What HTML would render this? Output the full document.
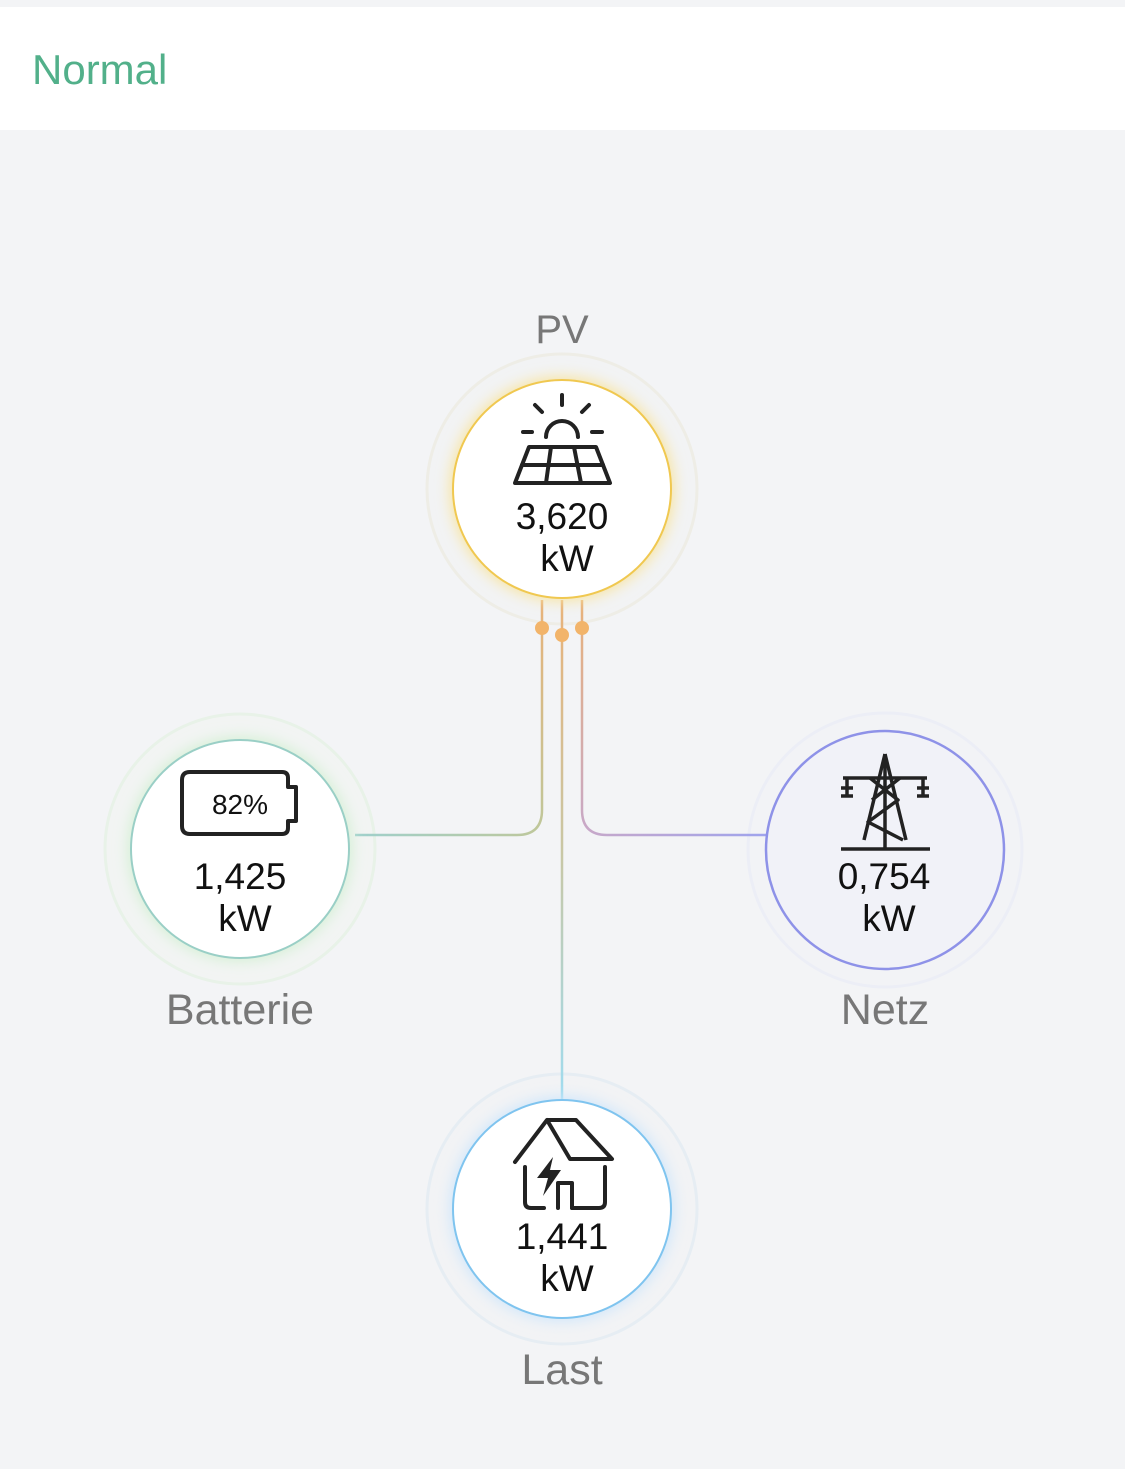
<!DOCTYPE html>
<html><head><meta charset="utf-8"><style>
html,body{margin:0;padding:0;background:#f3f4f6;}
svg{display:block}
</style></head><body>
<svg width="1125" height="1469" viewBox="0 0 1125 1469" xmlns="http://www.w3.org/2000/svg" font-family="Liberation Sans, sans-serif">
<defs>
<linearGradient id="gl" gradientUnits="userSpaceOnUse" x1="542" y1="600" x2="355" y2="835"><stop offset="0" stop-color="#e8b27a"/><stop offset="0.6" stop-color="#bfc79a"/><stop offset="1" stop-color="#9fd0cc"/></linearGradient>
<linearGradient id="gr" gradientUnits="userSpaceOnUse" x1="582" y1="600" x2="772" y2="835"><stop offset="0" stop-color="#e8b27a"/><stop offset="0.6" stop-color="#c8a8c8"/><stop offset="1" stop-color="#9ea4ee"/></linearGradient>
<linearGradient id="gm" gradientUnits="userSpaceOnUse" x1="562" y1="600" x2="562" y2="1100"><stop offset="0" stop-color="#e8b27a"/><stop offset="0.5" stop-color="#c9c7a4"/><stop offset="1" stop-color="#9fdcf0"/></linearGradient>
<filter id="blur" x="-30%" y="-30%" width="160%" height="160%"><feGaussianBlur stdDeviation="7"/></filter>
</defs>
<rect x="0" y="0" width="1125" height="1469" fill="#f3f4f6"/>
<rect x="0" y="7" width="1125" height="123" fill="#ffffff"/>
<text x="32" y="84" font-size="42" fill="#52b08a">Normal</text>

<!-- halos -->
<circle cx="562" cy="489" r="135" fill="#f2f3f4" stroke="#eeede6" stroke-width="3"/>
<circle cx="240" cy="849" r="135" fill="#f2f4f3" stroke="#e8f2e8" stroke-width="3"/>
<circle cx="885" cy="850" r="137" fill="#f2f3f6" stroke="#eceef6" stroke-width="3"/>
<circle cx="562" cy="1209" r="135" fill="#f2f3f5" stroke="#e6edf3" stroke-width="3"/>

<!-- connectors -->
<path d="M542 600 V810 Q542 835 517 835 H355" fill="none" stroke="url(#gl)" stroke-width="2.5"/>
<path d="M582 600 V810 Q582 835 607 835 H772" fill="none" stroke="url(#gr)" stroke-width="2.5"/>
<line x1="562" y1="600" x2="562" y2="1100" stroke="url(#gm)" stroke-width="2.5"/>
<circle cx="542" cy="628" r="7" fill="#f2b46a"/>
<circle cx="562" cy="635" r="7" fill="#f2b46a"/>
<circle cx="582" cy="628" r="7" fill="#f2b46a"/>

<!-- PV -->
<text x="562" y="343" font-size="40" fill="#777" text-anchor="middle">PV</text>
<circle cx="562" cy="489" r="112" fill="#f8e4a0" filter="url(#blur)"/>
<circle cx="562" cy="489" r="109" fill="#fff" stroke="#f0c850" stroke-width="2"/>
<g fill="none" stroke="#222" stroke-width="4" stroke-linecap="round" stroke-linejoin="round">
<path d="M546 437 A16 16 0 0 1 578 437"/>
<line x1="562" y1="395" x2="562" y2="405"/><line x1="535" y1="405" x2="542" y2="412"/><line x1="589" y1="405" x2="582" y2="412"/>
<line x1="523" y1="432" x2="532" y2="432"/><line x1="592" y1="432" x2="602" y2="432"/>
<path d="M529 447 H596 L610 483 H515 Z"/>
<line x1="522" y1="465" x2="603" y2="465"/>
<line x1="551" y1="447" x2="546" y2="483"/><line x1="574" y1="447" x2="581" y2="483"/>
</g>
<text x="562" y="529" font-size="37" fill="#111" text-anchor="middle">3,620</text>
<text x="567" y="571" font-size="37" fill="#111" text-anchor="middle">kW</text>

<!-- Batterie -->
<circle cx="240" cy="849" r="112" fill="#d4f0d4" filter="url(#blur)"/>
<circle cx="240" cy="849" r="109" fill="#fff" stroke="#9acfc6" stroke-width="2"/>
<path d="M190 772 H282 Q288 772 288 778 V787 H296 V821 H288 V828 Q288 834 282 834 H190 Q182 834 182 826 V780 Q182 772 190 772 Z" fill="none" stroke="#222" stroke-width="4" stroke-linejoin="round"/>
<text x="240" y="814" font-size="28" fill="#111" text-anchor="middle">82%</text>
<text x="240" y="889" font-size="37" fill="#111" text-anchor="middle">1,425</text>
<text x="245" y="931" font-size="37" fill="#111" text-anchor="middle">kW</text>
<text x="240" y="1024" font-size="43" fill="#777" text-anchor="middle">Batterie</text>

<!-- Netz -->
<circle cx="885" cy="850" r="119" fill="#f1f2f8" stroke="#8e92e8" stroke-width="2.5"/>
<g fill="none" stroke="#222" stroke-width="3.5" stroke-linejoin="round">
<path d="M885 754 L864 840 M885 754 L906 840"/>
<line x1="885" y1="754" x2="885" y2="849"/>
<line x1="843" y1="778" x2="927" y2="778"/>
<line x1="847" y1="778" x2="847" y2="797"/><line x1="923" y1="778" x2="923" y2="797"/>
<line x1="841" y1="788" x2="853" y2="788"/><line x1="917" y1="788" x2="929" y2="788"/>
<line x1="841" y1="796" x2="853" y2="796"/><line x1="917" y1="796" x2="929" y2="796"/>
<path d="M870 778 L898 800 L868 822 L903 840"/>
<path d="M900 778 L872 800"/>
<line x1="841" y1="849" x2="930" y2="849"/>
</g>
<text x="884" y="889" font-size="37" fill="#111" text-anchor="middle">0,754</text>
<text x="889" y="931" font-size="37" fill="#111" text-anchor="middle">kW</text>
<text x="885" y="1024" font-size="43" fill="#777" text-anchor="middle">Netz</text>

<!-- Last -->
<circle cx="562" cy="1209" r="112" fill="#cfe6fb" filter="url(#blur)"/>
<circle cx="562" cy="1209" r="109" fill="#fff" stroke="#7fc4ef" stroke-width="2"/>
<g fill="none" stroke="#222" stroke-width="4" stroke-linejoin="round" stroke-linecap="round">
<path d="M515 1162 L547 1120 H576 L612 1159 H570 L547 1120"/>
<path d="M525 1167 V1202 Q525 1208 531 1208 H544"/>
<path d="M558 1208 V1183 H572 V1208"/>
<path d="M572 1208 H599 Q605 1208 605 1202 V1167"/>
</g>
<path d="M553 1157 L537 1178 H548 L543 1196 L561 1170 H550 Z" fill="#222"/>
<text x="562" y="1249" font-size="37" fill="#111" text-anchor="middle">1,441</text>
<text x="567" y="1291" font-size="37" fill="#111" text-anchor="middle">kW</text>
<text x="562" y="1384" font-size="43" fill="#777" text-anchor="middle">Last</text>
</svg>
</body></html>
